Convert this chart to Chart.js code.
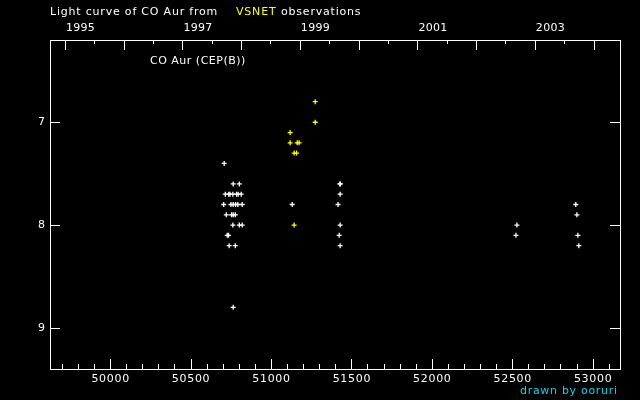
<!DOCTYPE html>
<html>
<head>
<meta charset="utf-8">
<script src="https://cdn.jsdelivr.net/npm/chart.js@4/dist/chart.umd.min.js"></script>
<style>
  html, body { margin: 0; padding: 0; background: #000; }
  canvas { display: block; }
</style>
</head>
<body>
<canvas id="c" width="640" height="400"></canvas>
<script>
// Observations: JD-2400000 and visual magnitude
const whiteJD = [
  50709,
  50765, 50803,
  50716, 50737, 50745, 50763, 50786, 50796, 50815,
  50706, 50751, 50765, 50780, 50794, 50821,
  50722, 50755, 50765, 50778,
  50763, 50803, 50821,
  50728, 50736,
  50740, 50778,
  50765,
  51132,
  51428, 51432, 51430, 51417, 51430, 51424, 51430,
  52529, 52523,
  52895, 52902, 52908, 52914
];
const whiteMag = [
  7.4,
  7.6, 7.6,
  7.7, 7.7, 7.7, 7.7, 7.7, 7.7, 7.7,
  7.8, 7.8, 7.8, 7.8, 7.8, 7.8,
  7.9, 7.9, 7.9, 7.9,
  8.0, 8.0, 8.0,
  8.1, 8.1,
  8.2, 8.2,
  8.8,
  7.8,
  7.6, 7.6, 7.7, 7.8, 8.0, 8.1, 8.2,
  8.0, 8.1,
  7.8, 7.9, 8.1, 8.2
];
const yellowJD  = [51275, 51275, 51119, 51119, 51163, 51175, 51144, 51159, 51144];
const yellowMag = [6.8,   7.0,   7.1,   7.2,   7.2,   7.2,   7.3,   7.3,   8.0];

const jdMajorTicks = [50000, 50500, 51000, 51500, 52000, 52500, 53000];
const jdTickLabels = ['50000', '50500', '51000', '51500', '52000', '52500', '53000'];
const yearMajorTicks = [1995, 1996, 1997, 1998, 1999, 2000, 2001, 2002, 2003, 2004];
const yearTickLabels = ['1995', '1997', '1999', '2001', '2003'];
const magTicks = [7, 8, 9];
const magTickLabels = ['7', '8', '9'];

function toPoints(xs, ys) { return xs.map((x, i) => ({ x: x, y: ys[i] })); }
function yearToJD(y, m) { // JD-2400000 at start of month m of year y
  return Date.UTC(y, m || 0, 1) / 86400000 + 40587 + 0.5;
}

const FONT = '11px "DejaVu Sans"';

const frame = {
  id: 'frame',
  beforeDraw(chart) {
    const ctx = chart.ctx;
    ctx.save();
    ctx.fillStyle = '#000';
    ctx.fillRect(0, 0, chart.width, chart.height);
    ctx.restore();
  },
  afterDraw(chart) {
    const ctx = chart.ctx;
    const a = chart.chartArea;
    const xs = chart.scales.x, ys = chart.scales.y;
    ctx.save();
    ctx.strokeStyle = '#fff';
    ctx.fillStyle = '#fff';
    ctx.lineWidth = 1;
    ctx.strokeRect(a.left + 0.5, a.top + 0.5, a.right - a.left, a.bottom - a.top);
    ctx.beginPath();
    // bottom ticks (JD)
    for (let v = 49700; v <= 53100; v += 100) {
      const px = Math.round(xs.getPixelForValue(v)) + 0.5;
      const len = jdMajorTicks.includes(v) ? 10 : 5;
      ctx.moveTo(px, a.bottom);
      ctx.lineTo(px, a.bottom - len);
    }
    // top ticks (years)
    yearMajorTicks.forEach(y => {
      let px = Math.round(xs.getPixelForValue(yearToJD(y, 0))) + 0.5;
      if (px > a.left && px < a.right) { ctx.moveTo(px, a.top); ctx.lineTo(px, a.top + 10); }
      px = Math.round(xs.getPixelForValue(yearToJD(y, 6))) + 0.5;
      if (px > a.left && px < a.right) { ctx.moveTo(px, a.top); ctx.lineTo(px, a.top + 4); }
    });
    // y ticks both sides
    magTicks.forEach(m => {
      const py = Math.round(ys.getPixelForValue(m)) + 0.5;
      ctx.moveTo(a.left, py); ctx.lineTo(a.left + 10, py);
      ctx.moveTo(a.right, py); ctx.lineTo(a.right - 10, py);
    });
    ctx.stroke();

    ctx.font = FONT;
    // bottom labels
    ctx.letterSpacing = '0.7px';
    ctx.textAlign = 'center';
    ctx.textBaseline = 'middle';
    jdMajorTicks.forEach((v, i) => {
      ctx.fillText(jdTickLabels[i], xs.getPixelForValue(v) + 0.5, a.bottom + 10);
    });
    // top labels
    ctx.letterSpacing = '0.3px';
    ctx.textAlign = 'left';
    yearTickLabels.forEach(l => {
      const px = xs.getPixelForValue(yearToJD(parseInt(l, 10), 0));
      ctx.fillText(l, px + 1, 28);
    });
    // y labels
    ctx.letterSpacing = '0px';
    ctx.textAlign = 'right';
    magTicks.forEach((m, i) => {
      ctx.fillText(magTickLabels[i], a.left - 5, ys.getPixelForValue(m));
    });
    // title
    ctx.letterSpacing = '0.8px';
    ctx.textAlign = 'left';
    ctx.fillStyle = '#fff';
    ctx.fillText('Light curve of CO Aur from', 50, 12);
    ctx.fillStyle = '#ffff00';
    ctx.fillText('VSNET', 236, 12);
    ctx.fillStyle = '#fff';
    ctx.fillText('observations', 281, 12);
    ctx.letterSpacing = '0.5px';
    ctx.fillText('CO Aur (CEP(B))', 150, 61);
    // credit
    ctx.letterSpacing = '0.7px';
    ctx.textAlign = 'left';
    ctx.fillStyle = '#00d8f0';
    ctx.fillText('drawn by ooruri', 520, 391);
    ctx.restore();
  }
};

new Chart(document.getElementById('c'), {
  type: 'scatter',
  data: {
    datasets: [
      { data: toPoints(whiteJD, whiteMag), borderColor: '#ffffff', backgroundColor: '#ffffff',
        pointStyle: 'cross', pointRadius: 2.5, pointBorderWidth: 1.3 },
      { data: toPoints(yellowJD, yellowMag), borderColor: '#ffff00', backgroundColor: '#ffff00',
        pointStyle: 'cross', pointRadius: 2.5, pointBorderWidth: 1.3 }
    ]
  },
  options: {
    responsive: false,
    devicePixelRatio: 1,
    animation: false,
    layout: { padding: { left: 50, right: 20, top: 40, bottom: 31 } },
    plugins: { legend: { display: false }, tooltip: { enabled: false } },
    scales: {
      x: { type: 'linear', min: 49626, max: 53170, display: false },
      y: { type: 'linear', min: 6.2, max: 9.4, reverse: true, display: false }
    }
  },
  plugins: [frame]
});
</script>
</body>
</html>
